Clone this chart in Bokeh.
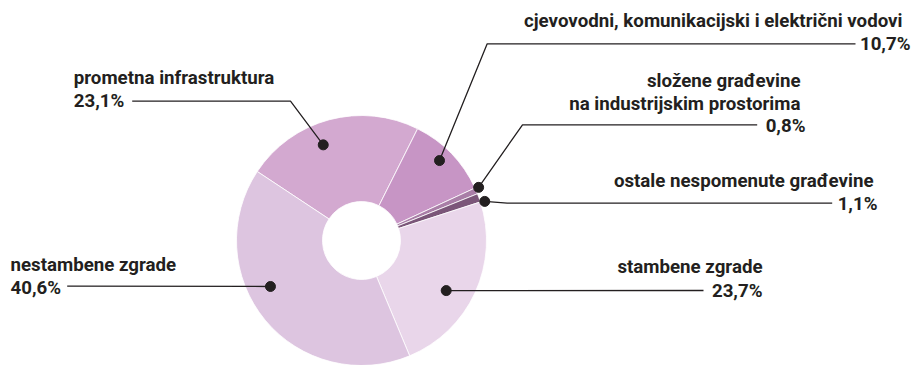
import math
from bokeh.plotting import figure
from bokeh.models import Range1d, ColumnDataSource
from bokeh.core.properties import value
from bokeh.embed import file_html
from bokeh.resources import INLINE

# ---- data ----
categories = [
    "prometna infrastruktura",
    "cjevovodni, komunikacijski i električni vodovi",
    "složene građevine na industrijskim prostorima",
    "ostale nespomenute građevine",
    "stambene zgrade",
    "nestambene zgrade",
]
label_lines = [
    ["prometna infrastruktura"],
    ["cjevovodni, komunikacijski i električni vodovi"],
    ["složene građevine", "na industrijskim prostorima"],
    ["ostale nespomenute građevine"],
    ["stambene zgrade"],
    ["nestambene zgrade"],
]
values = [23.1, 10.7, 0.8, 1.1, 23.7, 40.6]
pct_labels = ["23,1%", "10,7%", "0,8%", "1,1%", "23,7%", "40,6%"]
colors = ["#d3a9d0", "#c795c5", "#a97ea7", "#7b5679", "#e9d6ea", "#ddc5e0"]

# ---- layout (screen pixels) ----
W, H = 913, 365
CX, CY = 361, 240
R_OUT, R_IN = 125, 39
START_CW = 303.5  # degrees clockwise from top where first slice starts
FS = "18.7px"
DY = -6.0  # baseline correction

def sy(y):
    return H - y

# dot anchor: (clockwise angle deg, radius)
dot_polar = [(338.2, 103), (44.3, 111.7), (65.6, 128.6), (72.4, 129.3), (120.6, 98.4), (243.2, 102)]
# leader line bends / ends (screen px)
leader_pts = [
    [(290, 100.7), (131.7, 100.7)],
    [(486.7, 43.3), (855, 43.3)],
    [(522, 124.3), (756.7, 124.3)],
    [(506.7, 202.7), (831.7, 202.7)],
    [(703, 290)],
    [(66.7, 285.7)],
]
# text anchors: (x, align, name baselines, pct x, pct baseline)
text_layout = [
    (73.3, "left", [83.3], 73.3, 106.5),
    (902, "right", [26.5], 910, 49.5),
    (800, "right", [86.7, 109.3], 805, 131.5),
    (873, "right", [186.7], 877, 209.5),
    (762, "right", [272.7], 762, 296.5),
    (10, "left", [270.7], 10, 293.3),
]

p = figure(width=W, height=H, output_backend="svg", toolbar_location=None,
           x_range=Range1d(0, W), y_range=Range1d(0, H),
           min_border=0, outline_line_color=None)
p.axis.visible = False
p.grid.visible = False
p.background_fill_color = "white"
p.border_fill_color = "white"

# wedges
starts, ends = [], []
cum = 0.0
for v in values:
    a = START_CW + cum * 3.6
    b = a + v * 3.6
    starts.append(math.radians(90 - b))
    ends.append(math.radians(90 - a))
    cum += v
src = ColumnDataSource(dict(x=[CX] * len(values), y=[sy(CY)] * len(values),
                            start=starts, end=ends, color=colors, cat=categories))
p.annular_wedge(x="x", y="y", inner_radius=R_IN, outer_radius=R_OUT,
                start_angle="start", end_angle="end", fill_color="color",
                line_color="white", line_width=0.8, source=src)

TXT = "#231f20"
dxs, dys = [], []
lx, ly = [], []
for i, (ang, r) in enumerate(dot_polar):
    t = math.radians(ang)
    dx = CX + r * math.sin(t)
    dy = CY - r * math.cos(t)
    dxs.append(dx)
    dys.append(sy(dy))
    pts = [(dx, dy)] + leader_pts[i]
    lx.append([q[0] for q in pts])
    ly.append([sy(q[1]) for q in pts])

p.multi_line(xs=lx, ys=ly, line_color=TXT, line_width=1.3)
p.scatter(x=dxs, y=dys, size=10, fill_color=TXT, line_color=TXT)

for i, (x, align, bls, px, pb) in enumerate(text_layout):
    for line, bl in zip(label_lines[i], bls):
        p.text(x=[x], y=[sy(bl + DY)], text=[line], text_font=value("Roboto"),
               text_font_style="bold", text_font_size=FS, text_color=TXT,
               text_align=align, text_baseline="alphabetic")
    p.text(x=[px], y=[sy(pb + DY)], text=[pct_labels[i]], text_font=value("Roboto"),
           text_font_style="bold", text_font_size=FS, text_color=TXT,
           text_align=align, text_baseline="alphabetic")

open("out.html", "w").write(file_html(p, INLINE))
